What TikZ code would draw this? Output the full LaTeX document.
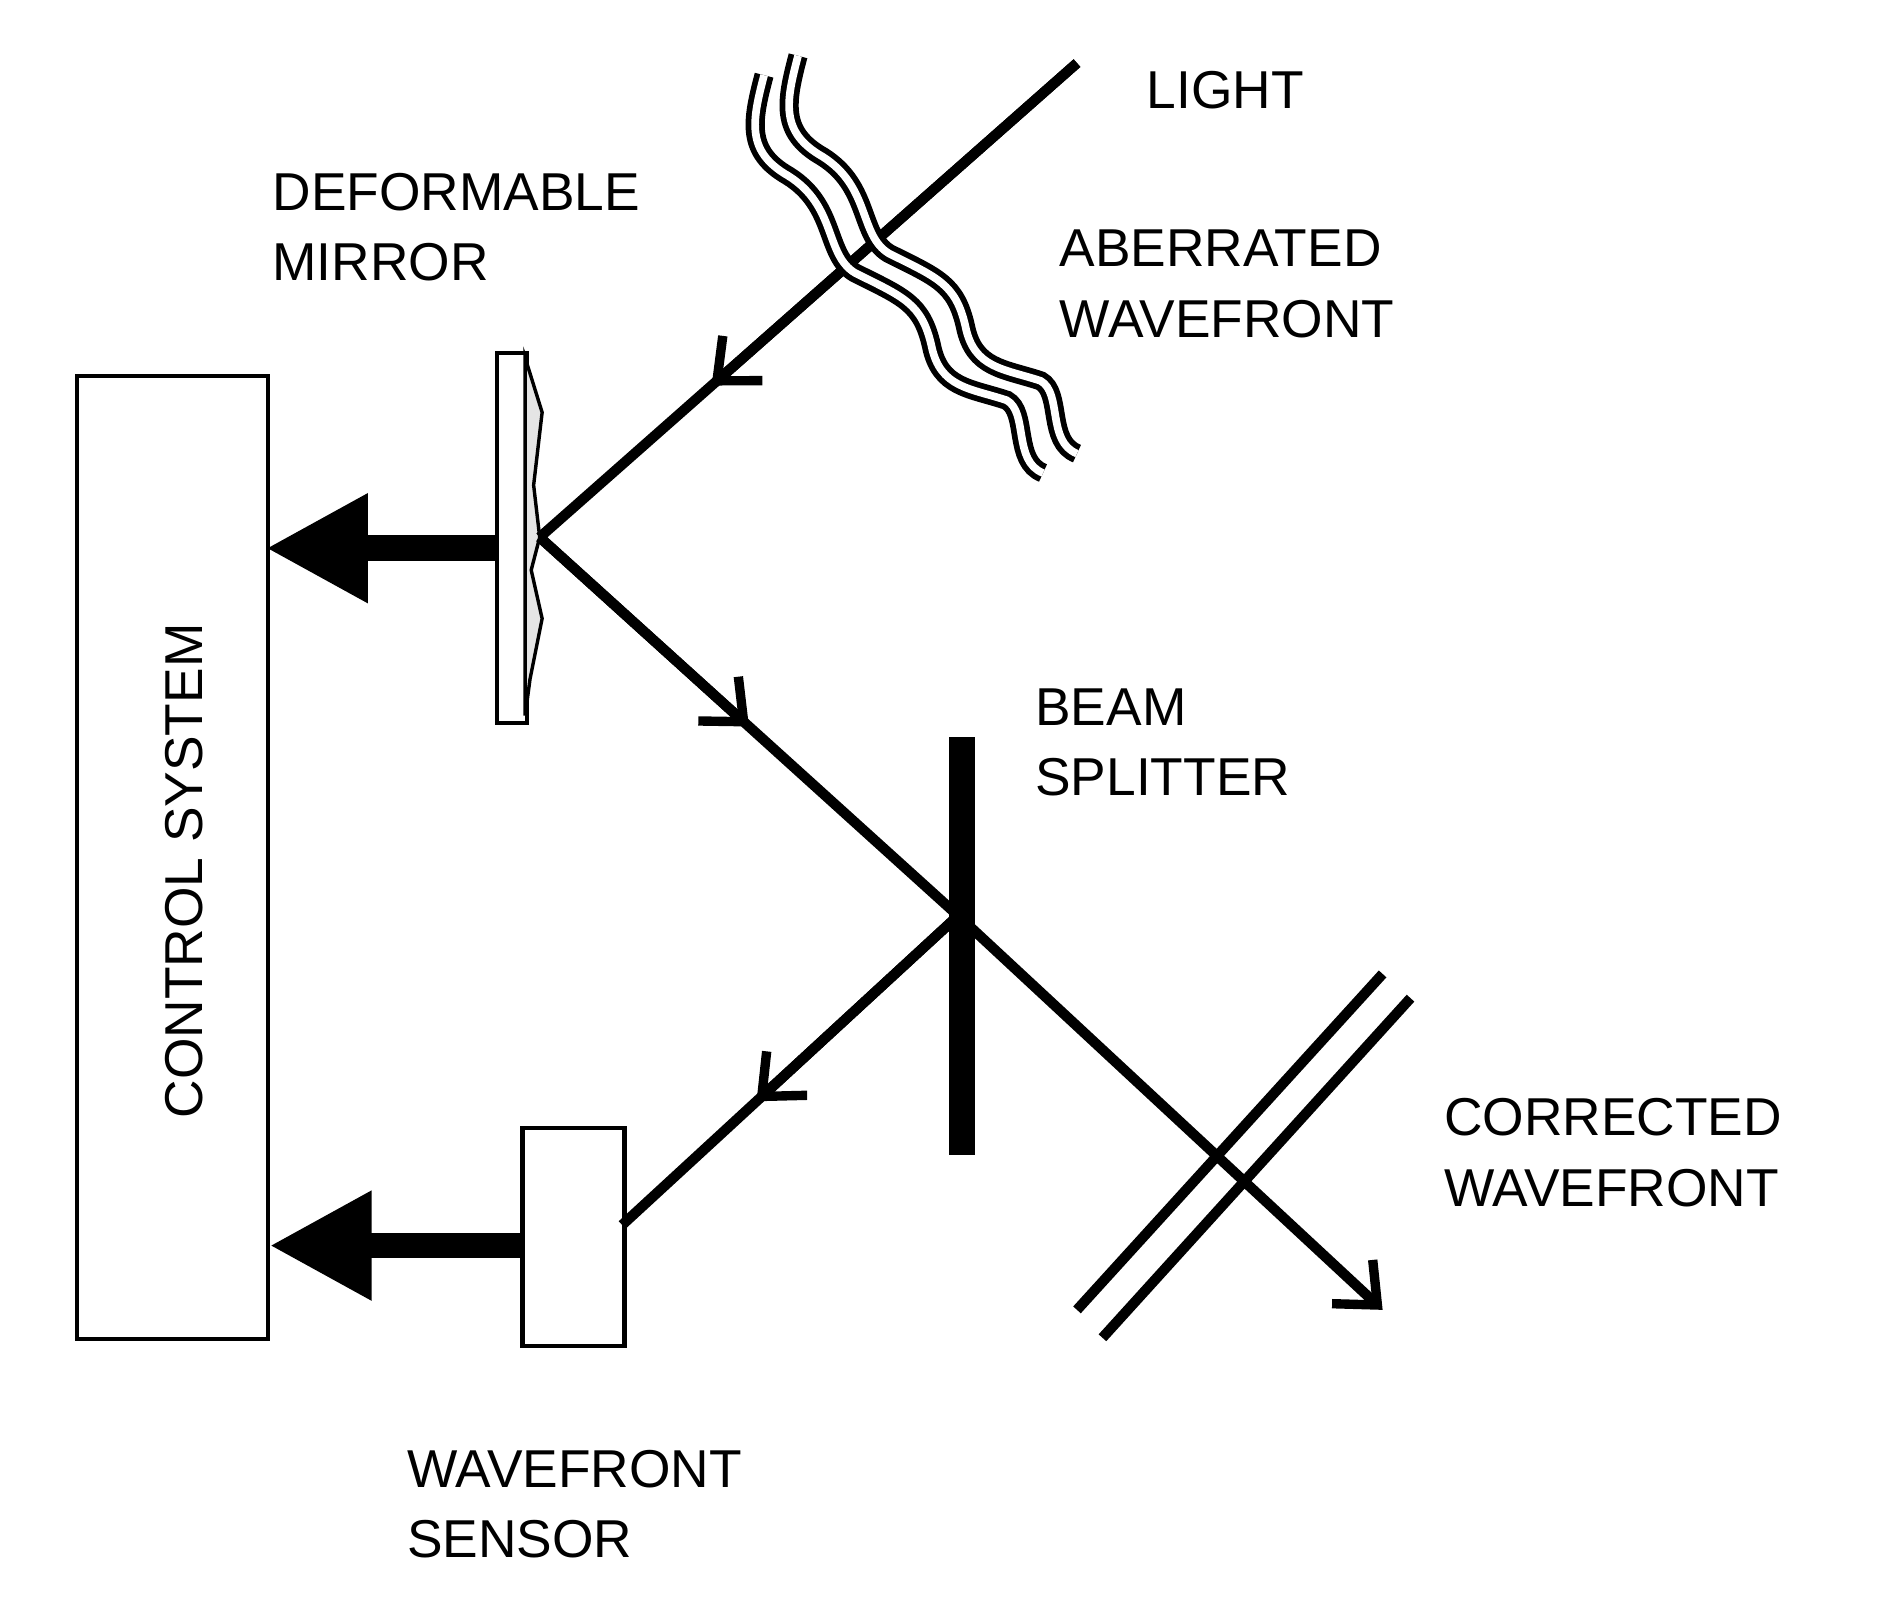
\documentclass[tikz,border=0pt]{standalone}
\usepackage{fontspec}
\setmainfont{Liberation Sans}
\usetikzlibrary{arrows.meta,calc}
\begin{document}
\begin{tikzpicture}[x=0.01cm,y=-0.01cm,
  beam/.style={line width=2.4pt},
  barb/.style={line width=2.4pt,-{Straight Barb[length=8pt,width=14pt,line width=2.2pt]}},
  fat/.style={line width=6pt,-{Triangle[length=24pt,width=24pt]}},
  lbl/.style={align=left,anchor=north west,inner sep=0pt,font=\fontsize{12.5}{16.5}\selectfont},
  box/.style={draw,line width=1pt,fill=white}]
\useasboundingbox (0,0) rectangle (1560,1320);
% control system
\node[box,minimum width=1.57cm,minimum height=7.94cm,anchor=north west] (ctrl) at (62,308) {};
\node[rotate=90,font=\fontsize{12.5}{15}\selectfont] (ctrltxt) at (152,718) {CONTROL SYSTEM};
% mirror
\node[box,minimum width=0.25cm,minimum height=3.05cm,anchor=north west,inner sep=0pt] (mir) at (408,289) {};
\draw[line width=0.8pt,fill=gray!20] (433,295) -- (447,340) -- (440,400) -- (445,443) -- (438,470) -- (447,510) -- (437,560) -- (433,590) -- cycle;
\coordinate (M) at (445,443);
% sensor
\node[box,minimum width=0.84cm,minimum height=1.8cm,anchor=north west,inner sep=0pt] (sens) at (429,928) {};
\coordinate (S) at (513,1010);
% beam splitter
\draw[line width=6pt] (793,608) -- (793,952);
\coordinate (B) at (790,755);
% beams
\coordinate (L) at (888,52);
\coordinate (E) at (1140,1080);
\draw[beam] (L) -- (M);
\draw[barb] (L) -- ($(L)!0.68!(M)$);
\draw[beam] (M) -- (B);
\draw[barb] (M) -- ($(M)!0.5!(B)$);
\draw[barb] (B) -- (E);
\draw[beam] (B) -- (S);
\draw[barb] (B) -- ($(B)!0.6!(S)$);
% thick arrows
\draw[fat] (408,452) -- (219,452);
\draw[fat] (429,1027) -- (222,1027);
% corrected wavefront
\draw[beam] (1140,803) -- (888,1080);
\draw[beam] (1163,823) -- (909,1103);
% aberrated wavefront
\foreach \dx/\dy in {0/0,28/-16}{
\begin{scope}[shift={(\dx,\dy)}]
\draw[line width=4.5pt] (630,62) .. controls (620,100) and (615,125) .. (650,145) .. controls (690,170) and (680,210) .. (705,225) .. controls (745,245) and (760,250) .. (768,285) .. controls (775,320) and (800,320) .. (830,330) .. controls (848,340) and (835,380) .. (860,390);
\draw[line width=1.8pt,white] (630,62) .. controls (620,100) and (615,125) .. (650,145) .. controls (690,170) and (680,210) .. (705,225) .. controls (745,245) and (760,250) .. (768,285) .. controls (775,320) and (800,320) .. (830,330) .. controls (848,340) and (835,380) .. (860,390);
\end{scope}}
% labels
\node[lbl] (t1) at (945,58) {LIGHT};
\node[lbl] (t2) at (224,142) {DEFORMABLE\\MIRROR};
\node[lbl] (t3) at (873,189) {ABERRATED\\WAVEFRONT};
\node[lbl] (t4) at (853,567) {BEAM\\SPLITTER};
\node[lbl] (t5) at (1190,905) {CORRECTED\\WAVEFRONT};
\node[lbl] (t6) at (335,1195) {WAVEFRONT\\SENSOR};
\end{tikzpicture}
\end{document}
